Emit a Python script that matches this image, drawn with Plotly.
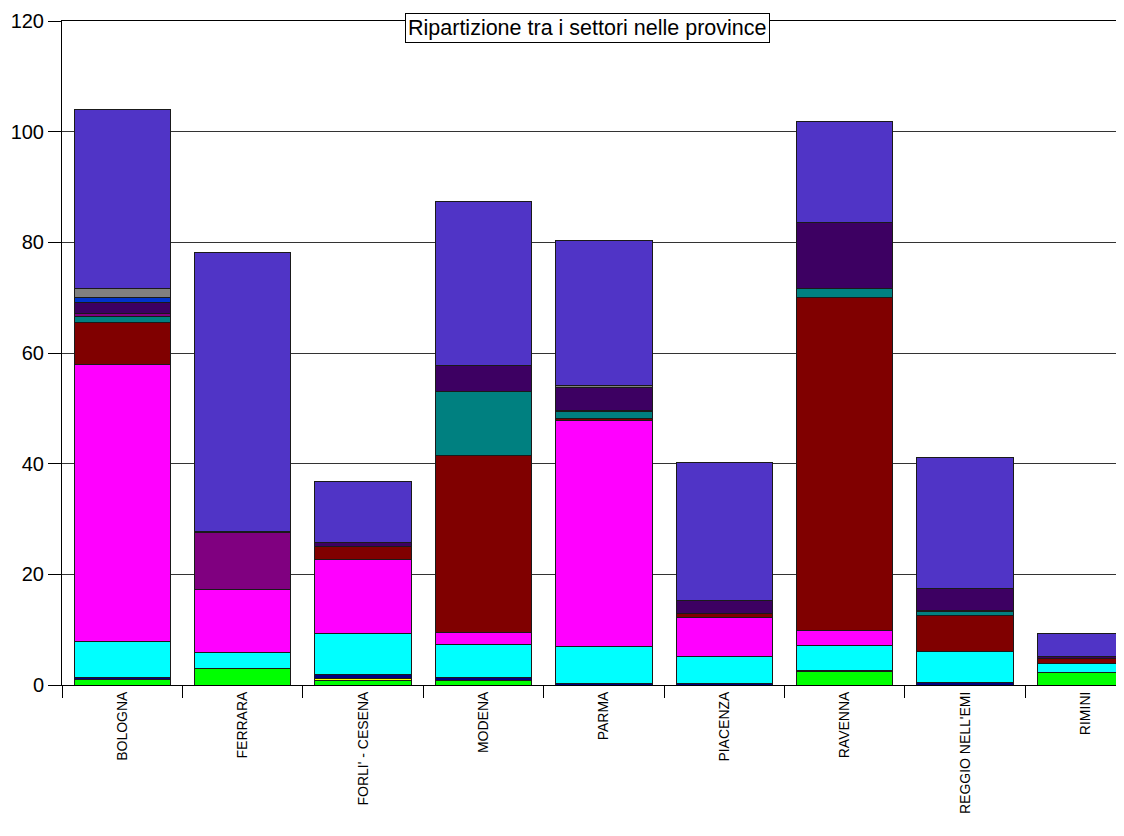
import plotly.graph_objects as go

province = ["BOLOGNA", "FERRARA", "FORLI' - CESENA", "MODENA", "PARMA",
            "PIACENZA", "RAVENNA", "REGGIO NELL'EMI", "RIMINI"]

# stacked sectors, bottom to top
verde = [1.0, 3.0, 0.8, 0.8, 0.0, 0.0, 2.4, 0.0, 2.3]
giallo = [0.0, 0.0, 0.4, 0.0, 0.0, 0.0, 0.0, 0.0, 0.0]
blu_scuro = [0.3, 0.0, 0.7, 0.5, 0.2, 0.3, 0.3, 0.5, 0.0]
ciano = [6.6, 2.8, 7.4, 6.0, 6.8, 4.9, 4.5, 5.5, 1.6]
magenta = [50.0, 11.5, 13.3, 2.2, 40.8, 7.0, 2.7, 0.0, 0.0]
bordeaux = [7.7, 0.0, 2.5, 32.0, 0.4, 0.8, 60.2, 6.6, 0.9]
verde_acqua = [1.0, 0.0, 0.0, 11.5, 1.2, 0.0, 1.5, 0.6, 0.0]
viola = [0.5, 10.2, 0.0, 0.0, 0.2, 0.0, 0.0, 0.3, 0.0]
viola_scuro = [2.1, 0.2, 0.6, 4.8, 4.2, 2.2, 12.0, 4.0, 0.4]
blu = [0.9, 0.0, 0.0, 0.0, 0.0, 0.0, 0.0, 0.0, 0.0]
grigio = [1.6, 0.0, 0.0, 0.0, 0.3, 0.0, 0.0, 0.0, 0.0]
indaco = [32.3, 50.4, 11.1, 29.5, 26.3, 25.0, 18.2, 23.7, 4.1]

serie = [
    ("Settore 1", verde, "#00FF00"),
    ("Settore 2", giallo, "#FFFF00"),
    ("Settore 3", blu_scuro, "#000080"),
    ("Settore 4", ciano, "#00FFFF"),
    ("Settore 5", magenta, "#FF00FF"),
    ("Settore 6", bordeaux, "#800000"),
    ("Settore 7", verde_acqua, "#008080"),
    ("Settore 8", viola, "#800080"),
    ("Settore 9", viola_scuro, "#3D0062"),
    ("Settore 10", blu, "#0033CC"),
    ("Settore 11", grigio, "#808080"),
    ("Settore 12", indaco, "#5034C6"),
]

fig = go.Figure()

for name, values, color in serie:
    fig.add_trace(go.Bar(
        x=province,
        y=values,
        name=name,
        marker={"color": color, "line": {"color": "#1a1a1a", "width": 1}},
    ))

# the page body adds an 8px margin, so the figure is a little smaller
fig.update_layout(
    barmode="stack",
    bargap=0.2,
    width=1116,
    height=828,
    showlegend=False,
    plot_bgcolor="white",
    paper_bgcolor="white",
    font={"family": "Liberation Sans, Arial, sans-serif", "color": "black"},
    margin={"t": 13, "b": 151, "l": 54, "r": 0},
    annotations=[{
        "text": "Ripartizione tra i settori nelle province",
        "xref": "paper", "yref": "paper",
        "x": 0.495, "y": 0.9895,
        "xanchor": "center", "yanchor": "middle",
        "showarrow": False,
        "font": {"size": 21.5, "color": "black"},
        "bgcolor": "white",
        "bordercolor": "black",
        "borderwidth": 1,
        "borderpad": 2,
    }],
)

fig.update_xaxes(
    range=[-0.5, 8.32],
    automargin=False,
    tickangle=-90,
    tickson="boundaries",
    ticks="outside",
    ticklen=12,
    tickcolor="black",
    tickfont={"size": 14},
    showline=True,
    mirror=True,
    linecolor="black",
    linewidth=1,
    showgrid=False,
)

fig.update_yaxes(
    range=[0, 120],
    automargin=False,
    dtick=20,
    ticks="outside",
    ticklen=13,
    tickcolor="black",
    tickfont={"size": 20},
    ticklabeloverflow="allow",
    showline=True,
    linecolor="black",
    linewidth=1,
    showgrid=True,
    gridcolor="#333333",
    gridwidth=1,
    zeroline=False,
)

fig.write_html("out.html")
